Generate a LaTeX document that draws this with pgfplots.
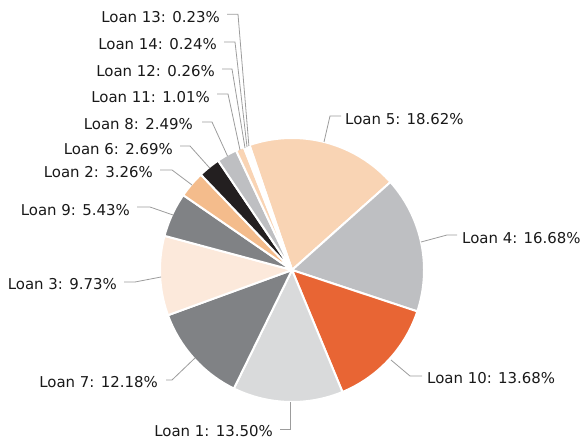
\documentclass[border=0pt]{standalone}
\usepackage{pgfplots}
\pgfplotsset{compat=1.18}
\usepackage{pgfplotstable}
\usepackage{fontspec}
\setmainfont{DejaVu Sans}
\definecolor{cpeach}{HTML}{F9D4B4}
\definecolor{cgrey}{HTML}{BEBFC2}
\definecolor{corange}{HTML}{E86534}
\definecolor{clgrey}{HTML}{D9DADB}
\definecolor{cdgrey}{HTML}{808285}
\definecolor{clpeach}{HTML}{FCE9DB}
\definecolor{clorange}{HTML}{F4BC8C}
\definecolor{cblack}{HTML}{231F20}
\definecolor{conn}{HTML}{9C9C9C}

\pgfplotstableread[col sep=comma]{
label,value,color
Loan 5,18.62,cpeach
Loan 4,16.68,cgrey
Loan 10,13.68,corange
Loan 1,13.50,clgrey
Loan 7,12.18,cdgrey
Loan 3,9.73,clpeach
Loan 9,5.43,cdgrey
Loan 2,3.26,clorange
Loan 6,2.69,cblack
Loan 8,2.49,cgrey
Loan 11,1.01,cpeach
Loan 12,0.26,white
Loan 14,0.24,white
Loan 13,0.23,white
}\loans

\tikzset{lab/.style={inner sep=0, font=\fontsize{15}{18}\selectfont, text=black!90}}

\begin{document}
\begin{tikzpicture}
\begin{axis}[
  scale only axis,
  width=581bp, height=439bp,
  xmin=0, xmax=581, ymin=0, ymax=439,
  y dir=reverse,
  hide axis,
  clip=false,
]
\path (rel axis cs:0,0) -- (rel axis cs:1,1);
\def\cum{0}
\pgfplotsforeachungrouped \i in {0,...,13}{%
  \pgfplotstablegetelem{\i}{value}\of\loans \let\v\pgfplotsretval
  \pgfplotstablegetelem{\i}{color}\of\loans \let\c\pgfplotsretval
  \pgfmathsetmacro\a{\cum}%
  \pgfmathsetmacro\b{\cum+\v}%
  \edef\slice{\noexpand\addplot[fill=\c, draw=white, line width=2bp, line join=round, domain=\a:\b, samples=60] ({292+132*sin(3.6*x-18.8)},{270-132*cos(3.6*x-18.8)}) -- (axis cs:292,270) -- cycle;}%
  \slice
  \xdef\cum{\b}%
}
% connectors
\addplot[conn, line width=0.8bp] coordinates {(227,14.3) (238,14.3) (248.9,146)};
\addplot[conn, line width=0.8bp] coordinates {(224,42) (235,42) (247,147)};
\addplot[conn, line width=0.8bp] coordinates {(222,69) (232,69) (245,148)};
\addplot[conn, line width=0.8bp] coordinates {(217,94) (228,94) (240,150)};
\addplot[conn, line width=0.8bp] coordinates {(202,122) (212,122) (227.5,156)};
\addplot[conn, line width=0.8bp] coordinates {(180,146) (190,146) (209.7,168)};
\addplot[conn, line width=0.8bp] coordinates {(160,170) (172,170) (192,185)};
\addplot[conn, line width=0.8bp] coordinates {(137,207) (150,207) (173,215)};
\addplot[conn, line width=0.8bp] coordinates {(124,282) (135,282) (161,277)};
\addplot[conn, line width=0.8bp] coordinates {(166,380) (172,380) (195,358)};
\addplot[conn, line width=0.8bp] coordinates {(280,429) (290,429) (290,402)};
\addplot[conn, line width=0.8bp] coordinates {(324,142) (330,116) (341,116)};
\addplot[conn, line width=0.8bp] coordinates {(421,242) (447,235) (457,235)};
\addplot[conn, line width=0.8bp] coordinates {(391,360) (410,376) (422,376)};
% labels
\node[lab, anchor=east] at (axis cs:220,17) {Loan 13: 0.23\%};
\node[lab, anchor=east] at (axis cs:217,44) {Loan 14: 0.24\%};
\node[lab, anchor=east] at (axis cs:215,71) {Loan 12: 0.26\%};
\node[lab, anchor=east] at (axis cs:210,97) {Loan 11: 1.01\%};
\node[lab, anchor=east] at (axis cs:193,124) {Loan 8: 2.49\%};
\node[lab, anchor=east] at (axis cs:173,149) {Loan 6: 2.69\%};
\node[lab, anchor=east] at (axis cs:153,172.5) {Loan 2: 3.26\%};
\node[lab, anchor=east] at (axis cs:130,210) {Loan 9: 5.43\%};
\node[lab, anchor=east] at (axis cs:117,284) {Loan 3: 9.73\%};
\node[lab, anchor=east] at (axis cs:158,382) {Loan 7: 12.18\%};
\node[lab, anchor=east] at (axis cs:273,431) {Loan 1: 13.50\%};
\node[lab, anchor=west] at (axis cs:345,119) {Loan 5: 18.62\%};
\node[lab, anchor=west] at (axis cs:462,238) {Loan 4: 16.68\%};
\node[lab, anchor=west] at (axis cs:427,378) {Loan 10: 13.68\%};
\end{axis}
\end{tikzpicture}
\end{document}
